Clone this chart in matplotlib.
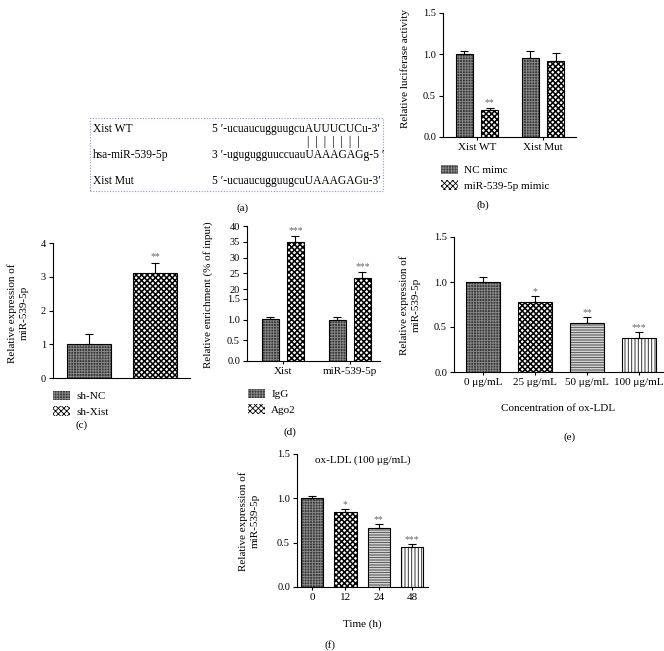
import numpy as np
import matplotlib
matplotlib.use('Agg')
import matplotlib.pyplot as plt
from matplotlib.patches import Patch, Rectangle

plt.rcParams['font.family'] = ['Liberation Serif', 'DejaVu Serif']
plt.rcParams['font.size'] = 7.5
plt.rcParams['hatch.linewidth'] = 0.6
plt.rcParams['axes.linewidth'] = 0.8
plt.rcParams['xtick.major.size'] = 2.5
plt.rcParams['ytick.major.size'] = 3
plt.rcParams['xtick.major.width'] = 0.8
plt.rcParams['ytick.major.width'] = 0.8

W, H = 664, 651

# ---- data ----
b_groups = ['Xist WT', 'Xist Mut']
b_nc = [1.00, 0.95]
b_nc_err = [0.04, 0.09]
b_mimic = [0.33, 0.92]
b_mimic_err = [0.02, 0.10]
b_stars = ['**', '']
b_legend = ['NC mimc', 'miR-539-5p mimic']

c_labels = ['sh-NC', 'sh-Xist']
c_vals = [1.0, 3.1]
c_err = [0.3, 0.3]
c_stars = ['', '**']

d_groups = ['Xist', 'miR-539-5p']
d_igg = [1.02, 0.99]
d_igg_err = [0.05, 0.08]
d_ago2 = [35.0, 23.5]
d_ago2_err = [1.8, 2.0]
d_stars = ['***', '***']
d_legend = ['IgG', 'Ago2']

e_conc = ['0 μg/mL', '25 μg/mL', '50 μg/mL', '100 μg/mL']
e_vals = [1.00, 0.78, 0.55, 0.38]
e_err = [0.06, 0.06, 0.06, 0.06]
e_stars = ['', '*', '**', '***']

f_time = ['0', '12', '24', '48']
f_vals = [1.00, 0.85, 0.66, 0.45]
f_err = [0.03, 0.03, 0.05, 0.03]
f_stars = ['', '*', '**', '***']

# fill styles: (face, hatch, hatch colour, hatch linewidth)
STY = [('#3a3a3a', '++++++', '#8a8a8a', 0.6),
       ('white', 'xxxxxx', 'black', 1.1),
       ('white', '----------', '#444444', 0.6),
       ('white', '|||||', '#333333', 0.7)]


def box(l, r, t, b):
    return [l / W, 1 - b / H, (r - l) / W, (b - t) / H]


def set_hlw(p, lw):
    if hasattr(p, 'set_hatch_linewidth'):
        p.set_hatch_linewidth(lw)


def hbar(ax, x, h, w, s, bottom=0):
    face, hatch, hc, hlw = STY[s]
    bars = ax.bar(x, h, w, bottom=bottom, color=face, hatch=hatch, edgecolor=hc, linewidth=0, zorder=2)
    for p in bars:
        set_hlw(p, hlw)
    ax.bar(x, h, w, bottom=bottom, fill=False, edgecolor='black', linewidth=0.8, zorder=3)


def err(ax, x, v, e):
    ax.errorbar(x, v, yerr=[[0] * len(v), e], fmt='none', ecolor='black',
                capsize=3, elinewidth=0.8, capthick=0.8, zorder=4)


def stars(ax, x, v, e, s, pad):
    for xi, vi, ei, si in zip(x, v, e, s):
        if si:
            ax.text(xi, vi + ei + pad, si, ha='center', va='bottom', color='#666666', fontsize=7)


def style(ax):
    for sp in ['top', 'right']:
        ax.spines[sp].set_visible(False)
    ax.tick_params(direction='out', pad=2)


def legend(handles_idx, labels, x, y):
    hs = []
    for i in handles_idx:
        p = Patch(facecolor=STY[i][0], hatch=STY[i][1], edgecolor=STY[i][2], linewidth=0)
        set_hlw(p, STY[i][3])
        hs.append(p)
    fig.legend(hs, labels, loc='upper left', bbox_to_anchor=(x / W, 1 - y / H), frameon=False,
               handlelength=1.5, handleheight=0.9, handletextpad=0.6, labelspacing=0.45,
               fontsize=8, borderaxespad=0, borderpad=0)


def ylab(text, x, y):
    fig.text(x / W, 1 - y / H, text, rotation=90, ha='center', va='center',
             multialignment='center', fontsize=8, linespacing=1.3)


def plab(text, x, y):
    fig.text(x / W, 1 - y / H, text, ha='center', va='center', fontsize=8)


fig = plt.figure(figsize=(W / 100, H / 100), dpi=100)

# ---- (a) ----
fig.patches.append(Rectangle((90 / W, 1 - 191 / H), 293 / W, 73 / H, transform=fig.transFigure,
                             fill=False, edgecolor='#8c9bc8', linestyle=(0, (1, 1.5)), linewidth=0.8))
names = ['Xist WT', 'hsa-miR-539-5p', 'Xist Mut']
seqs = ["5 ′-ucuaucugguugcuAUUUCUCu-3′", "3 ′-ugugugguuccuauUAAAGAGg-5 ′",
        "5 ′-ucuaucugguugcuUAAAGAGu-3′"]
for nm, sq, yy in zip(names, seqs, [129, 155, 181]):
    fig.text(93 / W, 1 - yy / H, nm, ha='left', va='center', fontsize=8.3)
    fig.text(212 / W, 1 - yy / H, sq, ha='left', va='center', fontsize=8.3)
fig.text(307 / W, 1 - 142 / H, '|  |  |  |  |  |  |', ha='left', va='center', fontsize=8.5)
plab('(a)', 243, 208)

# ---- (b) ----
ax = fig.add_axes(box(443, 576, 13, 137))
style(ax)
xb = np.arange(len(b_groups))
off, wb = 0.19, 0.26
for i in range(len(xb)):
    hbar(ax, xb[i] - off, b_nc[i], wb, 0)
    hbar(ax, xb[i] + off, b_mimic[i], wb, 1)
err(ax, xb - off, b_nc, b_nc_err)
err(ax, xb + off, b_mimic, b_mimic_err)
stars(ax, xb + off, b_mimic, b_mimic_err, b_stars, 0.01)
ax.set_xlim(-0.515, 1.5)
ax.set_ylim(0, 1.5)
ax.set_yticks([0, 0.5, 1.0, 1.5])
ax.set_yticklabels(['0.0', '0.5', '1.0', '1.5'])
ax.set_xticks(xb)
ax.set_xticklabels(b_groups, fontsize=8)
ylab('Relative luciferase activity', 405, 68)
legend([0, 1], b_legend, 441, 165)
plab('(b)', 483, 205)

# ---- (c) ----
ax = fig.add_axes(box(53, 190, 243, 378))
style(ax)
xc = np.arange(len(c_labels))
for i in range(len(xc)):
    hbar(ax, xc[i], c_vals[i], 0.67, i)
err(ax, xc, c_vals, c_err)
stars(ax, xc, c_vals, c_err, c_stars, 0.05)
ax.set_xlim(-0.545, 1.53)
ax.set_ylim(0, 4)
ax.set_yticks([0, 1, 2, 3, 4])
ax.set_xticks([])
ylab('Relative expression of\nmiR-539-5p', 18, 313)
legend([0, 1], c_labels, 53, 391)
plab('(c)', 82, 425)

# ---- (d) ----
axl = fig.add_axes(box(247, 380, 299, 361))
axu = fig.add_axes(box(247, 380, 226, 299))
style(axl)
style(axu)
axl.spines['top'].set_visible(False)
axu.spines['bottom'].set_visible(False)
xd = np.arange(len(d_groups))
off, wd = 0.187, 0.254
for a in (axl, axu):
    for i in range(len(xd)):
        hbar(a, xd[i] - off, d_igg[i], wd, 0)
        hbar(a, xd[i] + off, d_ago2[i], wd, 1)
    a.set_xlim(-0.537, 1.45)
err(axl, xd - off, d_igg, d_igg_err)
err(axu, xd + off, d_ago2, d_ago2_err)
stars(axu, xd + off, d_ago2, d_ago2_err, d_stars, 0.3)
axl.set_ylim(0, 1.5)
axl.set_yticks([0, 0.5, 1.0, 1.5])
axl.set_yticklabels(['0.0', '0.5', '1.0', '1.5'])
axl.set_xticks(xd)
axl.set_xticklabels(d_groups, fontsize=8)
axu.set_ylim(16.83, 40)
axu.set_yticks([20, 25, 30, 35, 40])
axu.set_xticks([])
ylab('Relative enrichment (% of input)', 208, 295)
legend([0, 1], d_legend, 248, 389)
plab('(d)', 290, 432)

# ---- (e) ----
ax = fig.add_axes(box(454, 663, 237, 372))
style(ax)
xe = np.arange(len(e_conc))
for i in range(len(xe)):
    hbar(ax, xe[i], e_vals[i], 0.65, i)
err(ax, xe, e_vals, e_err)
stars(ax, xe, e_vals, e_err, e_stars, 0.0)
ax.set_xlim(-0.56, 3.46)
ax.set_ylim(0, 1.5)
ax.set_yticks([0, 0.5, 1.0, 1.5])
ax.set_yticklabels(['0.0', '0.5', '1.0', '1.5'])
ax.set_xticks(xe)
ax.set_xticklabels(e_conc, fontsize=8)
ax.set_xlabel('Concentration of ox-LDL', fontsize=8, labelpad=12)
ylab('Relative expression of\nmiR-539-5p', 410, 305)
plab('(e)', 570, 437)

# ---- (f) ----
ax = fig.add_axes(box(297, 428, 454, 587))
style(ax)
xf = np.arange(len(f_time))
for i in range(len(xf)):
    hbar(ax, xf[i], f_vals[i], 0.67, i)
err(ax, xf, f_vals, f_err)
stars(ax, xf, f_vals, f_err, f_stars, 0.0)
ax.set_xlim(-0.45, 3.48)
ax.set_ylim(0, 1.5)
ax.set_yticks([0, 0.5, 1.0, 1.5])
ax.set_yticklabels(['0.0', '0.5', '1.0', '1.5'])
ax.set_xticks(xf)
ax.set_xticklabels(f_time, fontsize=8)
ax.set_xlabel('Time (h)', fontsize=8, labelpad=12)
ax.text(0.5, 0.99, 'ox-LDL (100 μg/mL)', transform=ax.transAxes, ha='center', va='top', fontsize=8)
ylab('Relative expression of\nmiR-539-5p', 249, 521)
plab('(f)', 330, 645)

fig.savefig('out.png', dpi=100)
